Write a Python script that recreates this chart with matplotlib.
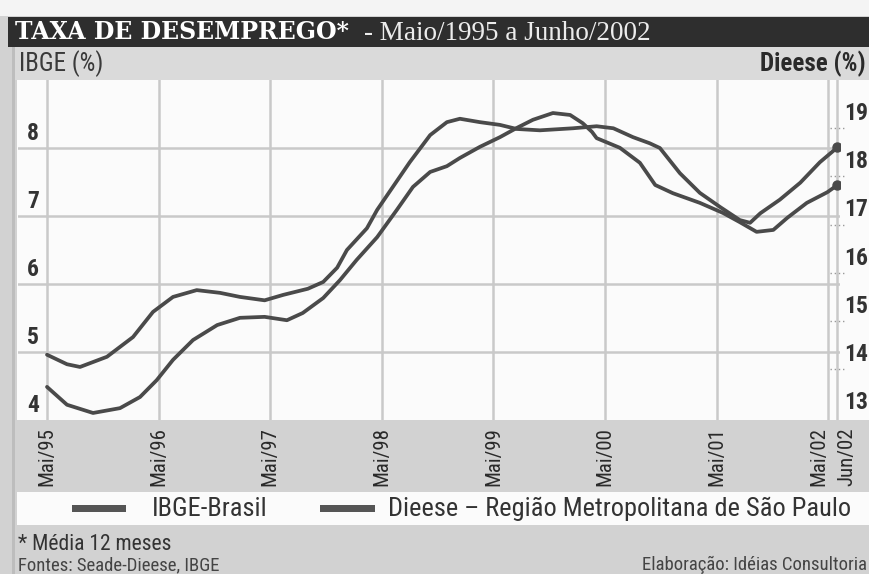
import matplotlib
matplotlib.use("Agg")
import matplotlib.pyplot as plt
from matplotlib import font_manager
from matplotlib.patches import Rectangle
import matplotlib.transforms as mtrans

# ---------------- data ----------------
tick_months = [0, 12, 24, 36, 48, 60, 72, 84, 85]
tick_labels = ["Mai/95", "Mai/96", "Mai/97", "Mai/98", "Mai/99", "Mai/00", "Mai/01", "Mai/02", "Jun/02"]

ibge_months = [0, 2.15, 3.55, 6.45, 9.25, 11.4, 13.55, 16.1, 18.6, 20.75, 23.4, 25.4, 28.05, 29.7, 31.2,
               32.25, 34.4, 35.5, 37.2, 39.0, 41.2, 43.0, 44.4, 46.55, 48.7, 50.5, 53.0, 56.55, 59.1, 60.9,
               63.0, 64.8, 65.9, 68.05, 70.2, 72.4, 74.5, 75.6, 76.7, 78.8, 81.0, 83.1, 85.0]
ibge_values = [4.96, 4.82, 4.78, 4.93, 5.22, 5.59, 5.81, 5.91, 5.87, 5.81, 5.76, 5.84, 5.93, 6.03, 6.24,
               6.50, 6.82, 7.09, 7.43, 7.79, 8.19, 8.38, 8.43, 8.38, 8.34, 8.28, 8.26, 8.29, 8.32, 8.29,
               8.16, 8.07, 8.00, 7.63, 7.34, 7.13, 6.94, 6.90, 7.04, 7.24, 7.49, 7.79, 8.01]

dieese_months = [0, 2.15, 4.95, 7.85, 10.0, 11.8, 13.55, 15.7, 18.3, 20.75, 23.4, 25.8, 27.5, 29.7, 31.5,
                 33.3, 35.5, 37.6, 39.35, 41.2, 43.0, 44.4, 46.55, 48.7, 50.5, 52.25, 54.4, 56.25, 57.6, 58.6,
                 59.1, 61.6, 63.75, 65.4, 67.3, 70.2, 72.7, 74.5, 76.3, 78.1, 79.6, 81.7, 83.9, 85.0]
dieese_values = [13.64, 13.27, 13.10, 13.20, 13.43, 13.78, 14.20, 14.61, 14.92, 15.07, 15.09, 15.02, 15.17, 15.48, 15.85,
                 16.27, 16.74, 17.30, 17.78, 18.09, 18.21, 18.38, 18.61, 18.81, 19.00, 19.17, 19.31, 19.27, 19.10, 18.92,
                 18.79, 18.59, 18.28, 17.82, 17.65, 17.45, 17.24, 17.05, 16.85, 16.89, 17.14, 17.45, 17.67, 17.82]

ibge_ticks = [4, 5, 6, 7, 8]
dieese_ticks = [13, 14, 15, 16, 17, 18, 19]

# ---------------- fonts ----------------
available = {f.name for f in font_manager.fontManager.ttflist}
COND = "Liberation Sans"
for cand in ["Liberation Sans Narrow", "Roboto Condensed", "Open Sans Condensed", "DejaVu Sans Condensed"]:
    if cand in available:
        COND = cand
        break
SERIF = "DejaVu Serif"

W, H = 869, 574
fig = plt.figure(figsize=(W / 100, H / 100), dpi=100)
fig.patch.set_facecolor("#d2d2d2")

def fx(px):
    return px / W

def fy(py):
    return 1 - py / H

def frect(x0, y0, x1, y1, color, z=-1):
    fig.patches.append(Rectangle((fx(x0), fy(y1)), fx(x1) - fx(x0), fy(y0) - fy(y1),
                                 transform=fig.transFigure, facecolor=color, edgecolor="none", zorder=z))

# page / bands
frect(0, 0, W, 16, "#f4f4f4")
frect(8, 17, W, 47, "#2e2e2e")
frect(15, 47, W, 80, "#dadada")
frect(12, 47, 15, H, "#bdbdbd")
frect(17, 80, W, 420, "#fbfbfb")
frect(17, 492, W, 525, "#fbfbfb")

# title
fig.text(fx(15), fy(32), "TAXA DE DESEMPREGO*", color="white", fontsize=17, fontweight="bold",
         family=SERIF, va="center", ha="left")
fig.text(fx(364), fy(33), "- Maio/1995 a Junho/2002", color="#ececec", fontsize=19.5,
         family="Liberation Serif", va="center", ha="left")
fig.text(fx(19), fy(64), "IBGE (%)", color="#3a3a3a", fontsize=18, family=COND, va="center", ha="left")
fig.text(fx(866), fy(64), "Dieese (%)", color="#2a2a2a", fontsize=18, family=COND, fontweight="bold",
         va="center", ha="right")

# ---------------- axes ----------------
ax = fig.add_axes([fx(18), fy(420), fx(840) - fx(18), fy(80) - fy(420)])
ax.set_facecolor("none")
month_px = 9.3
ax.set_xlim((18 - 47) / month_px, (840 - 47) / month_px)
ax.set_ylim(4.0, 8 + (148 - 80) / 68)

ax2 = ax.twinx()
ax2.set_ylim(19 - (420 - 128) / 48.3, 19 + (128 - 80) / 48.3)

for a in (ax, ax2):
    for s in a.spines.values():
        s.set_visible(False)

grid_c = "#c9c9c9"
for v in ibge_ticks[1:]:
    ax.axhline(v, color=grid_c, lw=1.8, zorder=1)
for m in tick_months:
    ax.axvline(m, color=grid_c, lw=1.8, zorder=1)

ax.set_yticks([])
ax2.set_yticks([])
ax.set_xticks(tick_months)
ax.set_xticklabels(tick_labels, rotation=90, fontsize=15, family=COND, color="#2a2a2a", va="top")
ax.tick_params(axis="x", length=0, pad=5)
labs = ax.get_xticklabels()
labs[-2].set_ha("right")
labs[-1].set_ha("left")

# left tick labels, sitting just above the gridlines
lbl_tr = mtrans.blended_transform_factory(fig.transFigure, ax.transData)
for v in ibge_ticks:
    ax.text(fx(33), v + 0.04, str(v), transform=lbl_tr, ha="center", va="bottom",
            fontsize=17, fontweight="bold", family=COND, color="#333333")

rt = mtrans.blended_transform_factory(fig.transFigure, ax2.transData)
for v in dieese_ticks:
    ax2.text(fx(856), v + 0.07, str(v), transform=rt, ha="center", va="bottom",
             fontsize=17, fontweight="bold", family=COND, color="#333333")
    if v > 13:
        ax2.plot([fx(830), fx(846)], [v, v], transform=rt, color="#9a9a9a", lw=1.0,
                 ls=(0, (1, 2)), clip_on=False)

line_c = "#4a4a4a"
ax.plot(ibge_months, ibge_values, color=line_c, lw=2.7, solid_joinstyle="round",
        solid_capstyle="round", zorder=5)
ax.plot(ibge_months[-1:], ibge_values[-1:], "o", color=line_c, ms=6.5, zorder=6)
ax2.plot(dieese_months, dieese_values, color=line_c, lw=2.7, solid_joinstyle="round",
         solid_capstyle="round", zorder=5)
ax2.plot(dieese_months[-1:], dieese_values[-1:], "o", color=line_c, ms=6.5, zorder=6)

# legend
frect(72, 505, 126, 512, "#555555", z=2)
fig.text(fx(152), fy(509), "IBGE-Brasil", fontsize=19, family=COND, color="#333333", va="center", ha="left")
frect(320, 505, 375, 512, "#555555", z=2)
fig.text(fx(388), fy(509), "Dieese \u2013 Região Metropolitana de São Paulo", fontsize=19, family=COND,
         color="#333333", va="center", ha="left")

# footnotes
fig.text(fx(18), fy(544), "* Média 12 meses", fontsize=15.5, family=COND, color="#333333", va="center", ha="left")
fig.text(fx(18), fy(565), "Fontes: Seade-Dieese, IBGE", fontsize=13.5, family=COND, color="#444444",
         va="center", ha="left")
fig.text(fx(867), fy(565), "Elaboração: Idéias Consultoria", fontsize=13.5, family=COND, color="#444444",
         va="center", ha="right")

fig.savefig("out.png", dpi=100, facecolor=fig.get_facecolor())
